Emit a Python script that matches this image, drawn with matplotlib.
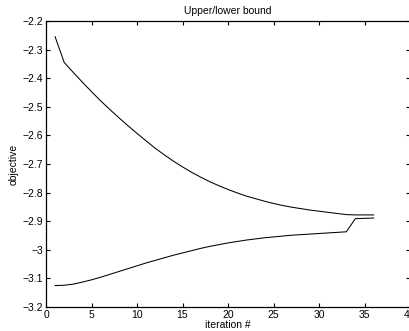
import matplotlib
matplotlib.use("Agg")
import matplotlib.pyplot as plt
import matplotlib.ticker as mticker
import numpy as np

# bound values, one per iteration (1..36)
iterations = np.arange(1, 37)

upper_bound = [
    -2.255, -2.345, -2.380, -2.414, -2.447, -2.479, -2.509, -2.538, -2.566, -2.593,
    -2.619, -2.645, -2.668, -2.690, -2.710, -2.729, -2.746, -2.762, -2.776, -2.789,
    -2.801, -2.812, -2.821, -2.830, -2.838, -2.845, -2.851, -2.856, -2.861, -2.865,
    -2.869, -2.873, -2.877, -2.878, -2.878, -2.878,
]

lower_bound = [
    -3.125, -3.124, -3.120, -3.113, -3.105, -3.096, -3.086, -3.076, -3.066, -3.056,
    -3.046, -3.037, -3.028, -3.019, -3.011, -3.003, -2.995, -2.988, -2.982, -2.976,
    -2.971, -2.966, -2.962, -2.958, -2.955, -2.952, -2.949, -2.947, -2.945, -2.943,
    -2.941, -2.939, -2.937, -2.891, -2.890, -2.889,
]

x_ticks = np.arange(0, 41, 5)
y_ticks = np.arange(-3.2, -2.19, 0.1)

plt.rcParams['font.family'] = ['Liberation Sans', 'DejaVu Sans']
plt.rcParams['font.size'] = 7.5

fig = plt.figure(figsize=(4.09, 3.31), dpi=100)
ax = fig.add_axes([46 / 409, 24 / 331, 364 / 409, 286 / 331])

ax.plot(iterations, upper_bound, color='black', linewidth=0.75)
ax.plot(iterations, lower_bound, color='black', linewidth=0.75)

ax.set_xlim(0, 40)
ax.set_ylim(-3.2, -2.2)
ax.set_xticks(x_ticks)
ax.set_yticks(y_ticks)
ax.yaxis.set_major_formatter(mticker.FuncFormatter(lambda v, p: ('%g' % round(v, 2)).replace('-', '\u2212')))

ax.tick_params(direction='in', length=3, width=0.8, top=True, right=True, pad=2)
for s in ax.spines.values():
    s.set_linewidth(0.9)

ax.set_title('Upper/lower bound', fontsize=7.5, pad=5)
ax.set_xlabel('iteration #', labelpad=0)
ax.set_ylabel('objective', labelpad=3)

plt.savefig('out.png', dpi=100)
